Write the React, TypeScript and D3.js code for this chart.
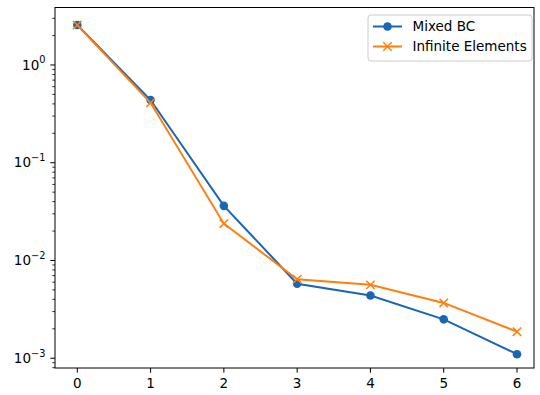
import React from "react";
import * as d3 from "d3";

const iterations = [0, 1, 2, 3, 4, 5, 6];
const mixedBC = [2.56, 0.438, 0.0362, 0.00578, 0.00438, 0.0025, 0.0011];
const infiniteElements = [2.56, 0.41, 0.0238, 0.00643, 0.00563, 0.00368, 0.00187];
const xTicks = [0, 1, 2, 3, 4, 5, 6];
const yMajorExps = [0, -1, -2, -3];

const W = 540;
const H = 395;
const frame = { left: 55, right: 534, top: 7.5, bottom: 368 };

const BLUE = "#1866b4";
const ORANGE = "#ff7f0e";
const FONT = "DejaVu Sans, sans-serif";
const FS = 13.5;

export default function App() {
  const x = d3.scaleLinear().domain([0, 6]).range([77.3, 517]);
  const y = d3
    .scaleLog()
    .domain([Math.pow(10, -3.1), Math.pow(10, 0.588)])
    .range([frame.bottom, frame.top]);

  const line = d3
    .line<number>()
    .x((_, i) => x(iterations[i]))
    .y((v) => y(v));

  // minor log ticks (2..9 per decade) inside the visible range
  const [yMin, yMax] = y.domain();
  const minor: number[] = [];
  for (let e = -4; e <= 1; e++) {
    for (let m = 2; m <= 9; m++) {
      const v = m * Math.pow(10, e);
      if (v >= yMin && v <= yMax) minor.push(v);
    }
  }

  const xMark = (cx: number, cy: number, key: string | number, r = 4.2) => (
    <g key={key} stroke={ORANGE} strokeWidth={1.5}>
      <line x1={cx - r} y1={cy - r} x2={cx + r} y2={cy + r} />
      <line x1={cx - r} y1={cy + r} x2={cx + r} y2={cy - r} />
    </g>
  );

  const legendX = 368;
  const legendY = 15;

  return (
    <svg
      width={W}
      height={H}
      style={{ position: "absolute", left: 0, top: 0, background: "#fff" }}
      fontFamily={FONT}
    >
      <rect x={0} y={0} width={W} height={H} fill="#fff" />

      {/* series */}
      <path d={line(mixedBC) || ""} fill="none" stroke={BLUE} strokeWidth={2} />
      {mixedBC.map((v, i) => (
        <circle key={"b" + i} cx={x(iterations[i])} cy={y(v)} r={4.3} fill={BLUE} />
      ))}
      <path d={line(infiniteElements) || ""} fill="none" stroke={ORANGE} strokeWidth={2} />
      {infiniteElements.map((v, i) => xMark(x(iterations[i]), y(v), "o" + i))}

      {/* frame */}
      <rect
        x={frame.left}
        y={frame.top}
        width={frame.right - frame.left}
        height={frame.bottom - frame.top}
        fill="none"
        stroke="#000"
        strokeWidth={1}
      />

      {/* x axis */}
      {xTicks.map((t) => (
        <g key={"xt" + t}>
          <line x1={x(t)} x2={x(t)} y1={frame.bottom} y2={frame.bottom + 4.7} stroke="#000" strokeWidth={1} />
          <text x={x(t)} y={frame.bottom + 19.5} fontSize={FS} textAnchor="middle" fill="#000">
            {t}
          </text>
        </g>
      ))}

      {/* y axis */}
      {minor.map((v, i) => (
        <line key={"ym" + i} x1={frame.left - 2.7} x2={frame.left} y1={y(v)} y2={y(v)} stroke="#000" strokeWidth={0.8} />
      ))}
      {yMajorExps.map((e) => {
        const py = y(Math.pow(10, e));
        return (
          <g key={"ye" + e}>
            <line x1={frame.left - 4.7} x2={frame.left} y1={py} y2={py} stroke="#000" strokeWidth={1} />
            <text x={frame.left - 9.5} y={py + 4.7} fontSize={FS} textAnchor="end" fill="#000">
              10
              <tspan dy={-6.2} fontSize={9.8}>
                {e === 0 ? "0" : "\u2212" + Math.abs(e)}
              </tspan>
            </text>
          </g>
        );
      })}

      {/* legend */}
      <rect
        x={legendX}
        y={legendY}
        width={164}
        height={46}
        rx={3}
        fill="#fff"
        fillOpacity={0.8}
        stroke="#cccccc"
        strokeWidth={1}
      />
      <line x1={legendX + 5} x2={legendX + 34} y1={legendY + 11.5} y2={legendY + 11.5} stroke={BLUE} strokeWidth={2} />
      <circle cx={legendX + 19.5} cy={legendY + 11.5} r={4.3} fill={BLUE} />
      <text x={legendX + 44.5} y={legendY + 16.3} fontSize={FS} fill="#000">
        Mixed BC
      </text>
      <line x1={legendX + 5} x2={legendX + 34} y1={legendY + 31.5} y2={legendY + 31.5} stroke={ORANGE} strokeWidth={2} />
      {xMark(legendX + 19.5, legendY + 31.5, "leg")}
      <text x={legendX + 44.5} y={legendY + 36.3} fontSize={FS} fill="#000">
        Infinite Elements
      </text>
    </svg>
  );
}
